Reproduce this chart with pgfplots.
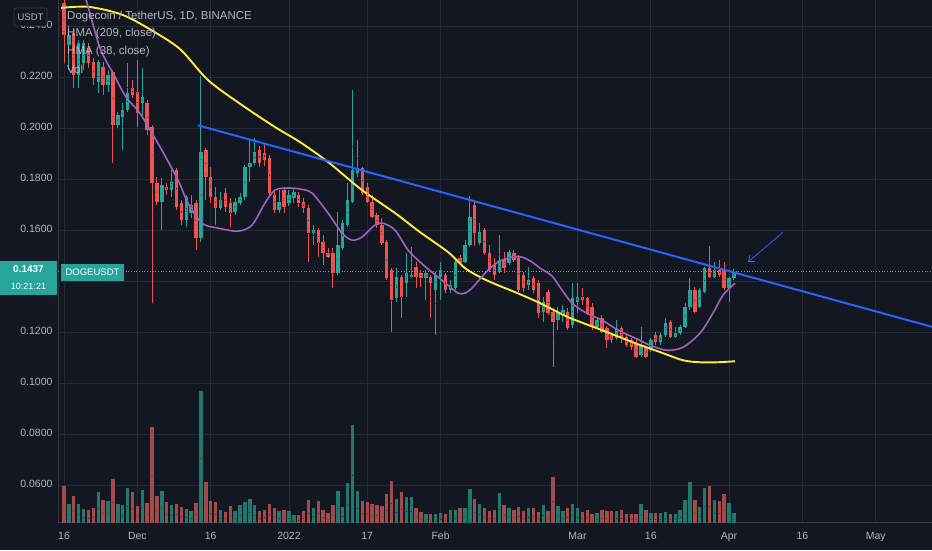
\documentclass[border=0pt]{standalone}
\usepackage{fontspec}
\setmainfont{Liberation Sans}
\usepackage{pgfplots}
\usepackage{pgfplotstable}
\pgfplotsset{compat=1.18}
\usetikzlibrary{arrows.meta}

\definecolor{bgc}{HTML}{131722}
\definecolor{gridc}{HTML}{252935}
\definecolor{axisc}{HTML}{363A45}
\definecolor{tickc}{HTML}{B2B5BE}
\definecolor{upc}{HTML}{26A69A}
\definecolor{dnc}{HTML}{EF5350}
\definecolor{vupc}{HTML}{23786E}
\definecolor{vdnc}{HTML}{A34A4B}
\definecolor{hmay}{HTML}{FFEB3B}
\definecolor{hmap}{HTML}{9C64BE}
\definecolor{bluec}{HTML}{2962FF}
\definecolor{pricedot}{HTML}{7E9C9E}

\pgfplotsset{
  candle/.style n args={2}{
    only marks, mark=*, mark size=0.1pt, mark options={draw=none, fill=none},
    forget plot,
    error bars/.cd, y dir=both, y explicit, error mark=none,
    error bar style={draw=#1, line width=#2, solid}
  }
}

\pgfplotstableread{
d o h l c v u
0 0.2490 0.2502 0.2255 0.2364 0.0596 0
1 0.2325 0.2404 0.2227 0.2364 0.0528 1
2 0.2372 0.2384 0.2157 0.2207 0.0559 0
3 0.2207 0.2345 0.2157 0.2333 0.0528 1
4 0.2255 0.2345 0.2227 0.2333 0.0506 1
5 0.2314 0.2333 0.2236 0.2255 0.0502 0
6 0.2259 0.2275 0.2168 0.2196 0.0510 0
7 0.2180 0.2267 0.2137 0.2259 0.0575 1
8 0.2240 0.2259 0.2129 0.2168 0.0541 0
9 0.2168 0.2227 0.2141 0.2207 0.0539 1
10 0.2219 0.2227 0.1863 0.2011 0.0624 0
11 0.2011 0.2063 0.2000 0.2051 0.0526 1
12 0.2044 0.2098 0.1914 0.2071 0.0522 1
13 0.2071 0.2255 0.2063 0.2137 0.0591 1
14 0.2157 0.2188 0.2118 0.2129 0.0575 0
15 0.2141 0.2267 0.2004 0.2059 0.0518 0
16 0.2098 0.2236 0.2044 0.2122 0.0581 1
17 0.2098 0.2110 0.1972 0.1992 0.0531 0
18 0.2004 0.2011 0.1314 0.1784 0.0829 0
19 0.1784 0.1808 0.1698 0.1710 0.0559 0
20 0.1710 0.1804 0.1600 0.1776 0.0579 1
21 0.1769 0.1784 0.1737 0.1757 0.0534 0
22 0.1757 0.1835 0.1730 0.1788 0.0524 1
23 0.1835 0.1844 0.1678 0.1691 0.0528 0
24 0.1706 0.1718 0.1619 0.1639 0.0515 0
25 0.1639 0.1737 0.1612 0.1730 0.0507 1
26 0.1666 0.1737 0.1647 0.1698 0.0500 1
27 0.1706 0.1718 0.1522 0.1569 0.0531 0
28 0.1569 0.2203 0.1553 0.1906 0.0969 1
29 0.1914 0.1922 0.1718 0.1808 0.0613 0
30 0.1808 0.1848 0.1706 0.1730 0.0538 0
31 0.1730 0.1769 0.1619 0.1687 0.0534 0
32 0.1687 0.1749 0.1678 0.1718 0.0502 1
33 0.1745 0.1765 0.1670 0.1691 0.0496 0
34 0.1706 0.1726 0.1612 0.1666 0.0518 0
35 0.1670 0.1726 0.1658 0.1710 0.0498 1
36 0.1706 0.1745 0.1698 0.1730 0.0522 1
37 0.1730 0.1855 0.1718 0.1848 0.0534 1
38 0.1848 0.1953 0.1788 0.1863 0.0548 1
39 0.1863 0.1961 0.1855 0.1906 0.0522 1
40 0.1914 0.1929 0.1848 0.1863 0.0500 0
41 0.1902 0.1933 0.1851 0.1875 0.0505 0
42 0.1883 0.1894 0.1737 0.1745 0.0528 0
43 0.1737 0.1757 0.1666 0.1678 0.0511 0
44 0.1678 0.1757 0.1666 0.1710 0.0498 1
45 0.1757 0.1769 0.1666 0.1691 0.0502 0
46 0.1706 0.1757 0.1694 0.1737 0.0500 1
47 0.1726 0.1765 0.1706 0.1749 0.0483 1
48 0.1737 0.1749 0.1691 0.1706 0.0483 0
49 0.1710 0.1726 0.1666 0.1687 0.0498 0
50 0.1687 0.1698 0.1474 0.1588 0.0541 0
51 0.1588 0.1619 0.1541 0.1600 0.0511 1
52 0.1600 0.1608 0.1495 0.1549 0.0539 0
53 0.1553 0.1580 0.1462 0.1510 0.0505 0
54 0.1510 0.1530 0.1491 0.1495 0.0492 0
55 0.1510 0.1530 0.1373 0.1431 0.0524 0
56 0.1431 0.1670 0.1423 0.1541 0.0578 1
57 0.1530 0.1639 0.1522 0.1627 0.0515 1
58 0.1619 0.1784 0.1612 0.1718 0.0607 1
59 0.1710 0.2149 0.1706 0.1835 0.0836 1
60 0.1823 0.1953 0.1808 0.1844 0.0577 1
61 0.1844 0.1848 0.1737 0.1745 0.0538 0
62 0.1769 0.1784 0.1706 0.1710 0.0535 0
63 0.1710 0.1737 0.1647 0.1651 0.0526 0
64 0.1658 0.1666 0.1608 0.1619 0.0522 0
65 0.1619 0.1647 0.1541 0.1549 0.0518 0
66 0.1553 0.1561 0.1404 0.1412 0.0564 0
67 0.1443 0.1451 0.1200 0.1326 0.0616 0
68 0.1334 0.1451 0.1318 0.1416 0.0545 1
69 0.1416 0.1423 0.1255 0.1338 0.0574 0
70 0.1392 0.1510 0.1338 0.1431 0.0555 1
71 0.1416 0.1534 0.1412 0.1423 0.0555 1
72 0.1455 0.1474 0.1373 0.1416 0.0511 0
73 0.1431 0.1443 0.1377 0.1412 0.0496 0
74 0.1412 0.1443 0.1326 0.1431 0.0487 1
75 0.1416 0.1423 0.1255 0.1392 0.0487 0
76 0.1365 0.1435 0.1188 0.1423 0.0487 1
77 0.1416 0.1474 0.1326 0.1443 0.0493 1
78 0.1423 0.1431 0.1353 0.1365 0.0487 0
79 0.1365 0.1404 0.1353 0.1384 0.0502 1
80 0.1373 0.1482 0.1365 0.1474 0.0502 1
81 0.1491 0.1502 0.1462 0.1470 0.0511 0
82 0.1474 0.1561 0.1470 0.1541 0.0511 1
83 0.1541 0.1734 0.1534 0.1651 0.0587 1
84 0.1698 0.1710 0.1537 0.1588 0.0548 0
85 0.1549 0.1627 0.1541 0.1592 0.0528 1
86 0.1600 0.1608 0.1502 0.1510 0.0511 0
87 0.1510 0.1541 0.1435 0.1443 0.0498 0
88 0.1462 0.1491 0.1404 0.1423 0.0502 0
89 0.1435 0.1580 0.1431 0.1482 0.0570 1
90 0.1482 0.1514 0.1431 0.1451 0.0522 0
91 0.1470 0.1522 0.1462 0.1514 0.0511 1
92 0.1510 0.1522 0.1474 0.1482 0.0505 0
93 0.1491 0.1502 0.1357 0.1365 0.0515 0
94 0.1423 0.1435 0.1357 0.1373 0.0498 0
95 0.1384 0.1455 0.1365 0.1404 0.0509 1
96 0.1412 0.1420 0.1353 0.1365 0.0511 0
97 0.1392 0.1404 0.1255 0.1274 0.0496 0
98 0.1278 0.1338 0.1239 0.1318 0.0522 1
99 0.1357 0.1365 0.1267 0.1274 0.0498 0
100 0.1278 0.1294 0.1063 0.1239 0.0633 0
101 0.1247 0.1298 0.1208 0.1274 0.0518 1
102 0.1267 0.1306 0.1239 0.1286 0.0498 1
103 0.1278 0.1294 0.1208 0.1216 0.0509 0
104 0.1227 0.1392 0.1216 0.1334 0.0526 1
105 0.1318 0.1392 0.1274 0.1338 0.0509 1
106 0.1338 0.1373 0.1306 0.1326 0.0496 0
107 0.1334 0.1338 0.1267 0.1274 0.0505 0
108 0.1298 0.1314 0.1208 0.1220 0.0487 0
109 0.1220 0.1255 0.1216 0.1247 0.0492 1
110 0.1255 0.1267 0.1196 0.1200 0.0502 0
111 0.1216 0.1224 0.1137 0.1169 0.0500 0
112 0.1188 0.1196 0.1157 0.1169 0.0500 0
113 0.1177 0.1247 0.1169 0.1216 0.0500 1
114 0.1216 0.1224 0.1157 0.1181 0.0502 0
115 0.1181 0.1188 0.1141 0.1149 0.0487 0
116 0.1169 0.1177 0.1129 0.1141 0.0489 0
117 0.1157 0.1169 0.1098 0.1102 0.0489 0
118 0.1110 0.1220 0.1102 0.1149 0.0526 1
119 0.1137 0.1149 0.1098 0.1102 0.0502 0
120 0.1129 0.1177 0.1121 0.1169 0.0492 1
121 0.1188 0.1200 0.1149 0.1161 0.0492 0
122 0.1161 0.1196 0.1149 0.1188 0.0492 1
123 0.1188 0.1255 0.1181 0.1235 0.0496 1
124 0.1239 0.1247 0.1177 0.1181 0.0489 0
125 0.1181 0.1220 0.1177 0.1196 0.0489 1
126 0.1196 0.1227 0.1188 0.1220 0.0505 1
127 0.1220 0.1314 0.1216 0.1298 0.0541 1
128 0.1298 0.1412 0.1286 0.1365 0.0613 1
129 0.1365 0.1377 0.1274 0.1278 0.0541 0
130 0.1298 0.1373 0.1294 0.1365 0.0515 1
131 0.1357 0.1455 0.1353 0.1451 0.0591 1
132 0.1451 0.1537 0.1412 0.1416 0.0596 0
133 0.1416 0.1474 0.1412 0.1443 0.0541 1
134 0.1443 0.1482 0.1416 0.1423 0.0539 0
135 0.1443 0.1474 0.1365 0.1373 0.0564 0
136 0.1373 0.1416 0.1318 0.1412 0.0532 1
137 0.1412 0.1447 0.1404 0.1437 0.0492 1
}\candles

\begin{document}
\begin{tikzpicture}
\path[use as bounding box] (0,0) rectangle (932pt,550pt);
\fill[bgc] (0,0) rectangle (932pt,550pt);
\begin{axis}[
  at={(58pt,28pt)}, anchor=south west,
  width=874pt, height=522pt, scale only axis,
  xmin=-1.23, xmax=177.5, ymin=0.0456, ymax=0.2502,
  axis x line*=bottom, axis y line*=left,
  axis line style={draw=axisc, line width=0.8pt, -},
  xtick={0,15,30,46,62,77,105,120,136,151,166},
  xticklabels={16,Dec,16,2022,17,Feb,Mar,16,Apr,16,May},
  ytick={0.06,0.08,0.10,0.12,0.14,0.16,0.18,0.20,0.22,0.24},
  yticklabels={0.0600,0.0800,0.1000,0.1200,{},0.1600,0.1800,0.2000,0.2200,0.2400},
  major tick length=0pt,
  grid=major, major grid style={draw=gridc, line width=0.8pt},
  ticklabel style={font=\fontsize{10.5}{12}\selectfont, text=tickc},
  typeset ticklabels with strut,
  xticklabel style={yshift=-6pt},
  yticklabel style={xshift=-2pt},
  scaled y ticks=false,
  unbounded coords=discard,
]
% current price dotted line
\addplot[pricedot, dotted, line width=0.7pt, forget plot] coordinates {(-1.23,0.1437) (177.5,0.1437)};
% volume
\addplot[candle={vupc}{3.4pt}]
  table[x=d, y expr={\thisrow{u}>0.5 ? (\thisrow{v}+0.044)/2 : nan}, y error expr={(\thisrow{v}-0.044)/2}] {\candles};
\addplot[candle={vdnc}{3.4pt}]
  table[x=d, y expr={\thisrow{u}<0.5 ? (\thisrow{v}+0.044)/2 : nan}, y error expr={(\thisrow{v}-0.044)/2}] {\candles};
% wicks
\addplot[candle={upc}{1pt}]
  table[x=d, y expr={\thisrow{u}>0.5 ? (\thisrow{h}+\thisrow{l})/2 : nan}, y error expr={(\thisrow{h}-\thisrow{l})/2}] {\candles};
\addplot[candle={dnc}{1pt}]
  table[x=d, y expr={\thisrow{u}<0.5 ? (\thisrow{h}+\thisrow{l})/2 : nan}, y error expr={(\thisrow{h}-\thisrow{l})/2}] {\candles};
% bodies
\addplot[candle={upc}{3.4pt}]
  table[x=d, y expr={\thisrow{u}>0.5 ? (\thisrow{o}+\thisrow{c})/2 : nan}, y error expr={max(abs(\thisrow{c}-\thisrow{o})/2,0.00025)}] {\candles};
\addplot[candle={dnc}{3.4pt}]
  table[x=d, y expr={\thisrow{u}<0.5 ? (\thisrow{o}+\thisrow{c})/2 : nan}, y error expr={max(abs(\thisrow{c}-\thisrow{o})/2,0.00025)}] {\candles};
% HMA 209
\addplot[hmay, line width=1.9pt, smooth, tension=0.5, mark=none] coordinates {
(-0.61,0.2471) (5.11,0.2475) (12.07,0.2443) (18.81,0.2373) (23.93,0.2306)
(29.45,0.2188) (36.40,0.2090) (43.15,0.2004) (48.26,0.1945) (53.99,0.1867)
(60.94,0.1757) (67.69,0.1667) (72.80,0.1592) (78.53,0.1514) (82.00,0.1451)
(85.48,0.1412) (88.75,0.1384) (92.23,0.1357) (97.34,0.1314) (103.07,0.1259)
(110.02,0.1208) (116.77,0.1157) (121.88,0.1122) (126.58,0.1090) (130.06,0.1082)
(133.54,0.1082) (137.22,0.1086)};
% HMA 38
\addplot[hmap, line width=1.6pt, smooth, tension=0.5, mark=none] coordinates {
(2.86,0.2561) (4.50,0.2502) (7.36,0.2314) (10.22,0.2208) (12.68,0.2122)
(15.34,0.2063) (17.38,0.2000) (19.43,0.1933) (21.47,0.1863) (23.52,0.1788)
(25.36,0.1706) (28.22,0.1627) (31.49,0.1608) (35.58,0.1596) (38.45,0.1620)
(41.10,0.1706) (43.15,0.1757) (45.81,0.1765) (48.26,0.1761) (50.72,0.1745)
(53.99,0.1667) (56.85,0.1588) (58.90,0.1561) (60.94,0.1573) (63.60,0.1620)
(65.24,0.1627) (67.69,0.1600) (70.35,0.1522) (72.80,0.1475) (75.26,0.1435)
(78.53,0.1384) (80.57,0.1353) (82.00,0.1353) (83.64,0.1377) (86.09,0.1431)
(88.75,0.1475) (91.62,0.1494) (93.66,0.1494) (95.71,0.1475) (97.34,0.1451)
(99.80,0.1420) (101.84,0.1365) (103.89,0.1314) (106.54,0.1278) (110.02,0.1247)
(113.29,0.1208) (116.77,0.1177) (119.84,0.1149) (123.31,0.1129) (126.58,0.1141)
(130.06,0.1196) (132.72,0.1275) (134.76,0.1345) (137.22,0.1392)};
% trend line
\addplot[bluec, line width=2pt, mark=none] coordinates {(27.34,0.2011) (177.5,0.1221)};
% arrow
\addplot[bluec, line width=0.8pt, mark=none, -{Straight Barb[length=5pt,width=8pt]}] coordinates {(147.03,0.1592) (139.88,0.1475)};
\end{axis}
% legend texts
\begin{scope}[every node/.style={anchor=west, inner sep=0pt, text=tickc, font=\fontsize{11.5}{13}\selectfont}]
\node at (67pt,533pt) {Dogecoin / TetherUS, 1D, BINANCE};
\node at (67pt,516pt) {HMA (209, close)};
\node at (67pt,498pt) {HMA (38, close)};
\node at (67pt,481pt) {Vol};
\end{scope}
% USDT box
\draw[fill=bgc, draw=axisc, rounded corners=2pt, line width=0.8pt] (14pt,542pt) rectangle (47pt,524pt);
\node[text=tickc, font=\fontsize{9.5}{11}\selectfont, inner sep=0pt] at (30.5pt,533pt) {USDT};
% price label
\fill[upc] (0pt,289pt) rectangle (57pt,255pt);
\node[text=white, font=\bfseries\fontsize{10}{11}\selectfont, inner sep=0pt] at (28.5pt,281pt) {0.1437};
\node[text=white, font=\fontsize{9}{10}\selectfont, inner sep=0pt] at (28.5pt,263.5pt) {10:21:21};
% symbol label
\fill[upc] (61pt,286pt) rectangle (124pt,269pt);
\node[text=white, font=\fontsize{9.5}{11}\selectfont, inner sep=0pt] at (92.5pt,277.5pt) {DOGEUSDT};
\end{tikzpicture}
\end{document}
